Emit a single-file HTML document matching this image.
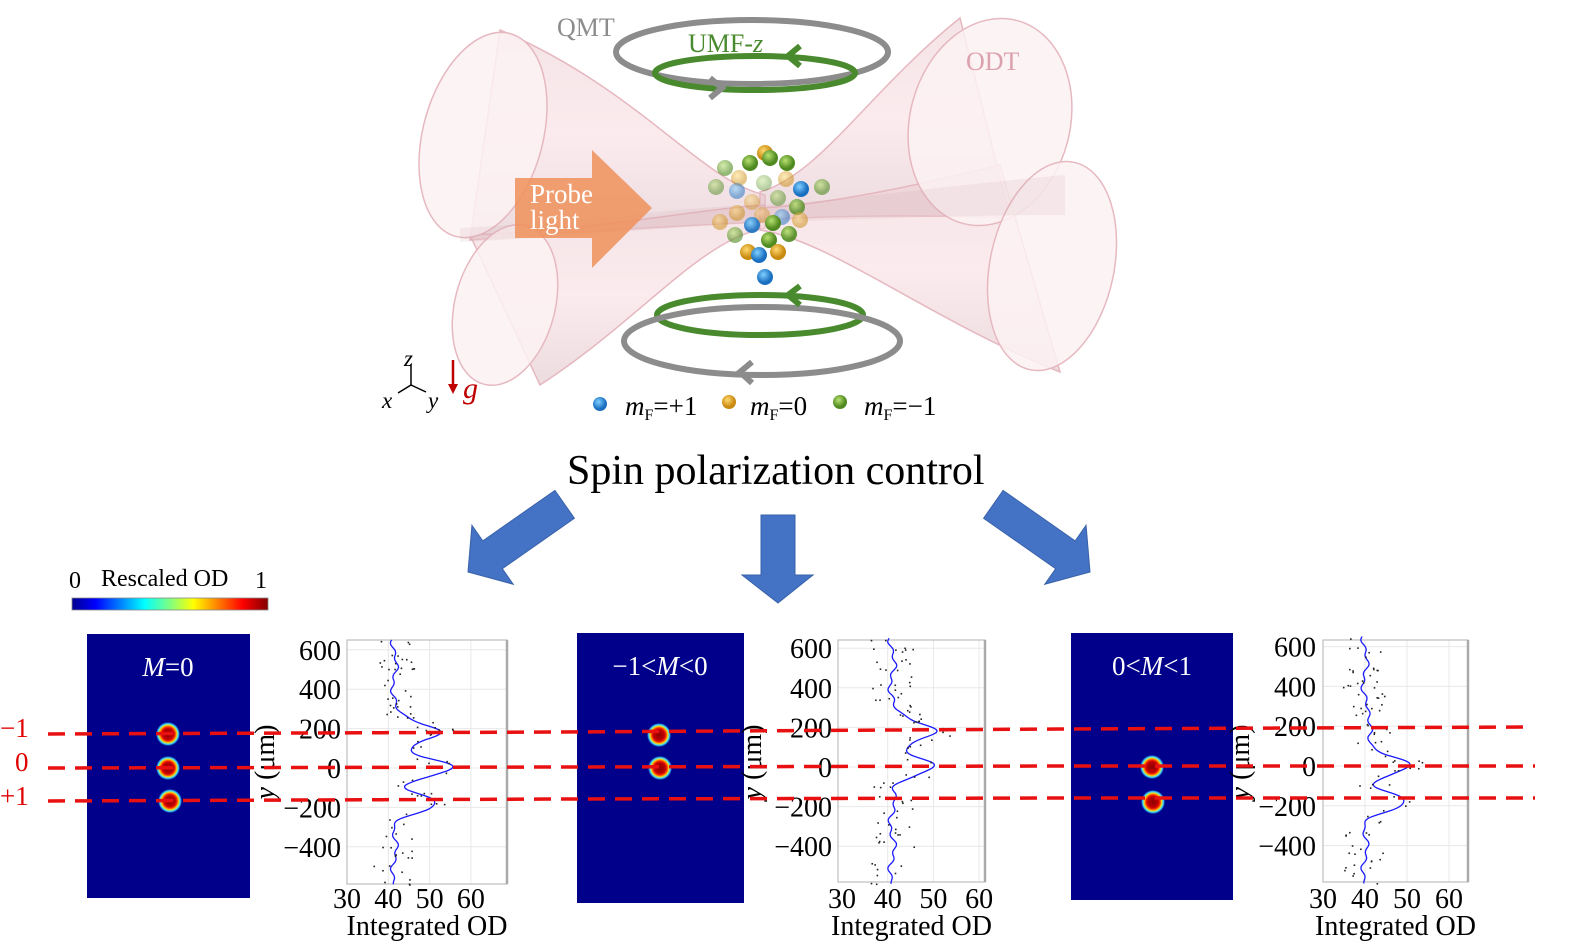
<!DOCTYPE html>
<html><head><meta charset="utf-8"><style>
html,body{margin:0;padding:0;background:#fff;}
svg{display:block;}
text{font-family:"Liberation Serif",serif;}
</style></head><body>
<svg id="s" width="1583" height="950" viewBox="0 0 1583 950" xmlns="http://www.w3.org/2000/svg">
<defs>
<linearGradient id="cb" x1="0" x2="1" y1="0" y2="0">
<stop offset="0" stop-color="#00008f"/><stop offset="0.12" stop-color="#0000ff"/><stop offset="0.37" stop-color="#00ffff"/><stop offset="0.5" stop-color="#80ff80"/><stop offset="0.62" stop-color="#ffff00"/><stop offset="0.87" stop-color="#ff0000"/><stop offset="1" stop-color="#800000"/>
</linearGradient>
<radialGradient id="blob">
<stop offset="0" stop-color="#8b0000"/><stop offset="0.45" stop-color="#c00000"/><stop offset="0.6" stop-color="#ff3000"/><stop offset="0.72" stop-color="#ffd000"/><stop offset="0.85" stop-color="#40e0ff"/><stop offset="1" stop-color="#000090"/>
</radialGradient>
<linearGradient id="pk" x1="0" x2="0" y1="0" y2="1">
<stop offset="0" stop-color="#e9c9cf"/><stop offset="0.5" stop-color="#f7d7dd"/><stop offset="1" stop-color="#d9b8bf"/>
</linearGradient>
<radialGradient id="bB" cx="0.4" cy="0.35"><stop offset="0" stop-color="#7fd0ff"/><stop offset="1" stop-color="#1a6fc0"/></radialGradient>
<radialGradient id="bO" cx="0.4" cy="0.35"><stop offset="0" stop-color="#ffd870"/><stop offset="1" stop-color="#c98a10"/></radialGradient>
<radialGradient id="bG" cx="0.4" cy="0.35"><stop offset="0" stop-color="#b8e070"/><stop offset="1" stop-color="#4f8a20"/></radialGradient>
</defs>

<!-- ODT cones -->
<g fill="url(#pk)" fill-opacity="0.5" stroke="#e6b8c0" stroke-width="1.5">
<path d="M500,30 C640,90 700,180 765,195 L765,222 C690,225 600,230 470,240 Z"/>
<path d="M470,235 C600,230 690,210 765,205 L765,228 C700,240 640,320 540,385 Z"/>
<path d="M960,18 C870,90 820,175 760,192 L760,220 C840,215 940,215 1010,218 Z"/>
<path d="M1000,165 C900,190 820,205 760,208 L760,230 C830,240 930,320 1060,372 Z"/>
</g>
<g fill="#fbf1f3" fill-opacity="0.85" stroke="#e6b8c0" stroke-width="1.5">
<ellipse cx="483" cy="135" rx="60" ry="105" transform="rotate(15 483 135)"/>
<ellipse cx="505" cy="305" rx="50" ry="82" transform="rotate(15 505 305)"/>
<ellipse cx="990" cy="122" rx="80" ry="105" transform="rotate(15 990 122)"/>
<ellipse cx="1052" cy="266" rx="62" ry="106" transform="rotate(12 1052 266)"/>
</g>
<path d="M460,228 C600,220 700,205 765,205 C850,200 950,185 1065,175 L1065,215 C950,215 850,220 765,222 C700,225 600,235 460,242 Z" fill="#c9a0a8" fill-opacity="0.15"/>

<!-- probe light -->
<polygon points="515,178 592,178 592,150 652,208 592,268 592,238 515,238" fill="#ee915a" fill-opacity="0.85"/>
<text x="530" y="203" font-size="27" fill="#fff">Probe</text>
<text x="530" y="229" font-size="27" fill="#fff">light</text>

<!-- coils -->
<g fill="none" stroke-width="6">
<ellipse cx="752" cy="52" rx="136" ry="32" stroke="#8c8c8c"/>
<ellipse cx="755" cy="73" rx="100" ry="17" stroke="#4a8a2e"/>
<ellipse cx="760" cy="315" rx="103" ry="20" stroke="#4a8a2e"/>
<ellipse cx="762" cy="341" rx="138" ry="34" stroke="#8c8c8c"/>
<polyline points="800,46 788,56 800,66" stroke="#4a8a2e"/>
<polyline points="710,78 722,88 710,98" stroke="#8c8c8c"/>
<polyline points="800,286 788,295 800,305" stroke="#4a8a2e"/>
<polyline points="752,362 740,372 752,383" stroke="#8c8c8c"/>
</g>
<text x="557" y="36" font-size="26" fill="#8c8c8c">QMT</text>
<text x="688" y="52" font-size="26" fill="#4a8a2e">UMF-<tspan font-style="italic">z</tspan></text>
<text x="966" y="70" font-size="26" fill="#dba2ae">ODT</text>

<g id="atoms"></g>

<!-- axes -->
<g stroke="#000" stroke-width="1.5" fill="none">
<line x1="411" y1="385" x2="411" y2="364"/>
<line x1="411" y1="385" x2="398" y2="393"/>
<line x1="411" y1="385" x2="426" y2="392"/>
</g>
<text x="404" y="366" font-size="23" font-style="italic">z</text>
<text x="382" y="408" font-size="23" font-style="italic">x</text>
<text x="428" y="408" font-size="23" font-style="italic">y</text>
<line x1="453" y1="360" x2="453" y2="386" stroke="#c00000" stroke-width="2.5"/>
<polygon points="448,384 458,384 453,394" fill="#c00000"/>
<text x="463" y="398" font-size="30" font-style="italic" fill="#c00000">g</text>

<!-- legend -->
<circle cx="600" cy="404" r="7" fill="url(#bB)"/>
<circle cx="729" cy="402" r="7" fill="url(#bO)"/>
<circle cx="840" cy="402" r="7" fill="url(#bG)"/>
<text x="625" y="415" font-size="27"><tspan font-style="italic">m</tspan><tspan font-size="16" dy="5">F</tspan><tspan dy="-5">=+1</tspan></text>
<text x="750" y="415" font-size="27"><tspan font-style="italic">m</tspan><tspan font-size="16" dy="5">F</tspan><tspan dy="-5">=0</tspan></text>
<text x="864" y="415" font-size="27"><tspan font-style="italic">m</tspan><tspan font-size="16" dy="5">F</tspan><tspan dy="-5">=−1</tspan></text>

<text x="567" y="484" font-size="42">Spin polarization control</text>

<!-- big arrows -->
<g fill="#4472c4" stroke="#3a62aa" stroke-width="1">
<polygon points="761,515 795,515 795,575 813,575 778,603 742,575 761,575"/>
<polygon transform="translate(468,572) rotate(55)" points="-17,-118 17,-118 17,-30 36,-30 0,0 -36,-30 -17,-30"/>
<polygon transform="translate(1090,572) rotate(-55)" points="-17,-118 17,-118 17,-30 36,-30 0,0 -36,-30 -17,-30"/>
</g>

<!-- colorbar -->
<rect x="72" y="598" width="196" height="12" fill="url(#cb)" stroke="#888" stroke-width="0.8"/>
<text x="69" y="588" font-size="24">0</text>
<text x="101" y="586" font-size="24">Rescaled OD</text>
<text x="255" y="588" font-size="24">1</text>

<g id="panels"></g>

<!-- side labels -->
<text x="0" y="737" font-size="27" fill="#e00000">−1</text>
<text x="15" y="771" font-size="27" fill="#e00000">0</text>
<text x="0" y="805" font-size="27" fill="#e00000">+1</text>
<g id="lines"></g>
</svg>
<script>
var NS="http://www.w3.org/2000/svg";
function el(t,a,p,txt){var e=document.createElementNS(NS,t);for(var k in a)e.setAttribute(k,a[k]);if(txt!=null)e.textContent=txt;(p||document.getElementById('s')).appendChild(e);return e;}
var A=[[765,153,'O',1],[750,163,'G',1],[770,158,'G',1],[787,163,'G',1],[725,168,'G',.6],[739,178,'O',.5],[764,183,'G',.4],[786,179,'O',.5],[801,189,'B',1],[822,187,'G',.6],[716,187,'G',.5],[737,191,'B',.5],[778,198,'G',.5],[752,202,'O',.4],[797,207,'G',.8],[737,213,'O',.5],[762,215,'O',.4],[782,217,'B',.5],[800,220,'O',.5],[720,222,'O',.5],[752,225,'B',.9],[773,223,'G',1],[735,235,'G',.6],[789,234,'G',.9],[769,240,'G',1],[748,252,'O',1],[778,252,'O',1],[759,255,'B',1],[765,277,'B',1]];
var ag=document.getElementById('atoms');
A.forEach(function(a){el('circle',{cx:a[0],cy:a[1],r:8,fill:'url(#b'+a[2]+')','fill-opacity':a[3]},ag);});
var P=[
 {img:[87,634,163,264],blobs:[[168,734],[168,768],[170,801]],lab:"M=0",lx:168,
  ax:[347,640,507,884],x30:347,xs:4.13,y0:768,ys:0.197,base:41.5,pk:[[180,11.5],[0,14],[-180,9.5]],tlx:341,ylab:265},
 {img:[577,633,167,270],blobs:[[659,735],[660,768]],lab:"−1<M<0",lx:660,
  ax:[838,640,985,882],x30:842,xs:4.57,y0:767,ys:0.198,base:41,pk:[[180,10],[0,9]],tlx:832,ylab:752},
 {img:[1071,633,162,267],blobs:[[1152,767],[1153,802]],lab:"0<M<1",lx:1152,
  ax:[1323,640,1468,882],x30:1323,xs:4.2,y0:766,ys:0.199,base:40,pk:[[180,2],[0,10.5],[-180,9]],tlx:1316,ylab:1240}
];
var seed=7;function rnd(){seed=(seed*16807)%2147483647;return seed/2147483647;}
var pg=document.getElementById('panels');
P.forEach(function(p){
 el('rect',{x:p.img[0],y:p.img[1],width:p.img[2],height:p.img[3],fill:'#00008a'},pg);
 p.blobs.forEach(function(b){el('circle',{cx:b[0],cy:b[1],r:12,fill:'url(#blob)'},pg);});
 var t=el('text',{x:p.lx,y:p.img[1]+42,'font-size':27,fill:'#fff','text-anchor':'middle'},pg);
 var parts=p.lab.split('M');
 el('tspan',{},t,parts[0]);el('tspan',{'font-style':'italic'},t,'M');el('tspan',{},t,parts[1]);
 var a=p.ax;
 for(var v=-400;v<=600;v+=200){var yy=p.y0-v*p.ys;el('line',{x1:a[0],x2:a[2],y1:yy,y2:yy,stroke:'#e8e8e8','stroke-width':1},pg);}
 for(var xv=40;xv<=60;xv+=10){var xx=p.x30+(xv-30)*p.xs;el('line',{x1:xx,x2:xx,y1:a[1],y2:a[3],stroke:'#e8e8e8','stroke-width':1},pg);}
 el('rect',{x:a[0],y:a[1],width:a[2]-a[0],height:a[3]-a[1],fill:'none',stroke:'#bdbdbd','stroke-width':1.2},pg);
 el('line',{x1:a[2],x2:a[2],y1:a[1],y2:a[3],stroke:'#aaa','stroke-width':2.5},pg);
 function f(v){var s=p.base+0.6*Math.sin(v/37)+0.4*Math.sin(v/13);p.pk.forEach(function(k){s+=k[1]*Math.exp(-(v-k[0])*(v-k[0])/(2*45*45));});return s;}
 var d="";for(var v=-590;v<=650;v+=5){var X=p.x30+(f(v)-30)*p.xs,Y=p.y0-v*p.ys;d+=(d?"L":"M")+X.toFixed(1)+","+Y.toFixed(1);}
 el('path',{d:d,fill:'none',stroke:'#1a1aff','stroke-width':1.3},pg);
 for(var i=0;i<90;i++){var v=-590+rnd()*1240;var X=p.x30+(f(v)+(rnd()-0.5)*9-30)*p.xs;el('rect',{x:X,y:p.y0-v*p.ys,width:1.6,height:1.6,fill:'#222'},pg);}
 [600,400,200,0,-200,-400].forEach(function(v){el('text',{x:p.tlx,y:p.y0-v*p.ys+10,'font-size':28,'text-anchor':'end'},pg,(v<0?'−'+(-v):''+v));});
 [30,40,50,60].forEach(function(xv){el('text',{x:p.x30+(xv-30)*p.xs,y:908,'font-size':28,'text-anchor':'middle'},pg,''+xv);});
 el('text',{x:(a[0]+a[2])/2,y:935,'font-size':28,'text-anchor':'middle'},pg,'Integrated OD');
 var yl=el('text',{x:0,y:0,'font-size':28,'text-anchor':'middle',transform:'translate('+(p.ylab+9)+',762) rotate(-90)'},pg);
 el('tspan',{'font-style':'italic'},yl,'y');el('tspan',{},yl,' (μm)');
});
var lg=document.getElementById('lines');
[[734,732,729,727],[768,767,766,766],[801,799,798,798]].forEach(function(r,i){
 var d="M48,"+r[0]+" L560,"+r[1]+" L1060,"+r[2]+" L"+(i==0?1527:1535)+","+r[3];
 el('path',{d:d,fill:'none',stroke:'#e81010','stroke-width':3.5,'stroke-dasharray':'17,10'},lg);
});
</script>
</body></html>
